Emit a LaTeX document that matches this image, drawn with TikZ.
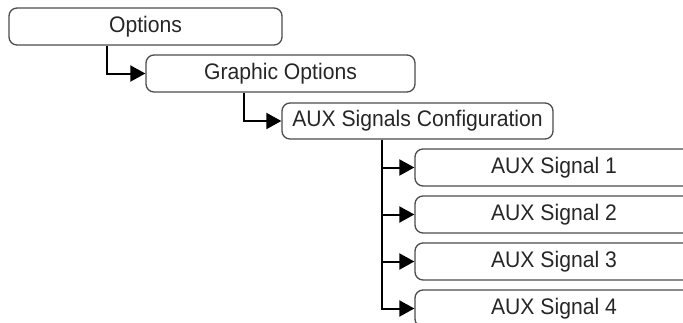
\documentclass[tikz,border=0pt]{standalone}
\usepackage{fontspec}
\setmainfont[FakeStretch=0.94]{Liberation Sans}
\usetikzlibrary{arrows.meta,positioning}
\begin{document}
\begin{tikzpicture}[x=1pt,y=-1pt,
  every node/.style={font=\fontsize{22.5}{26}\selectfont,text=black!85},
  bx/.style={draw=black!70,line width=1.3pt,rounded corners=8pt,minimum height=37pt,inner sep=0pt},
  cn/.style={line width=2pt,-{Triangle[length=15pt,width=16pt]}}
]
\useasboundingbox (0,0) rectangle (683,322);
\node[bx,minimum width=273pt] (opt) at (145.5,26.5) {Options};
\node[bx,minimum width=269pt] (gfx) at (280.5,73.5) {Graphic Options};
\node[bx,minimum width=271pt,minimum height=36pt] (cfg) at (417.5,121) {AUX Signals Configuration};
\foreach \i/\y in {1/167.5,2/214.5,3/261.5,4/308.5}
  \node[bx,minimum width=278pt] (sig\i) at (554,\y) {AUX Signal \i};
\draw[cn] ([xshift=99pt]opt.south west) |- (gfx.west);
\draw[cn] ([xshift=99pt]gfx.south west) |- (cfg.west);
\foreach \i in {1,...,4}
  \draw[cn] ([xshift=101pt]cfg.south west) |- (sig\i.west);
\end{tikzpicture}
\end{document}
